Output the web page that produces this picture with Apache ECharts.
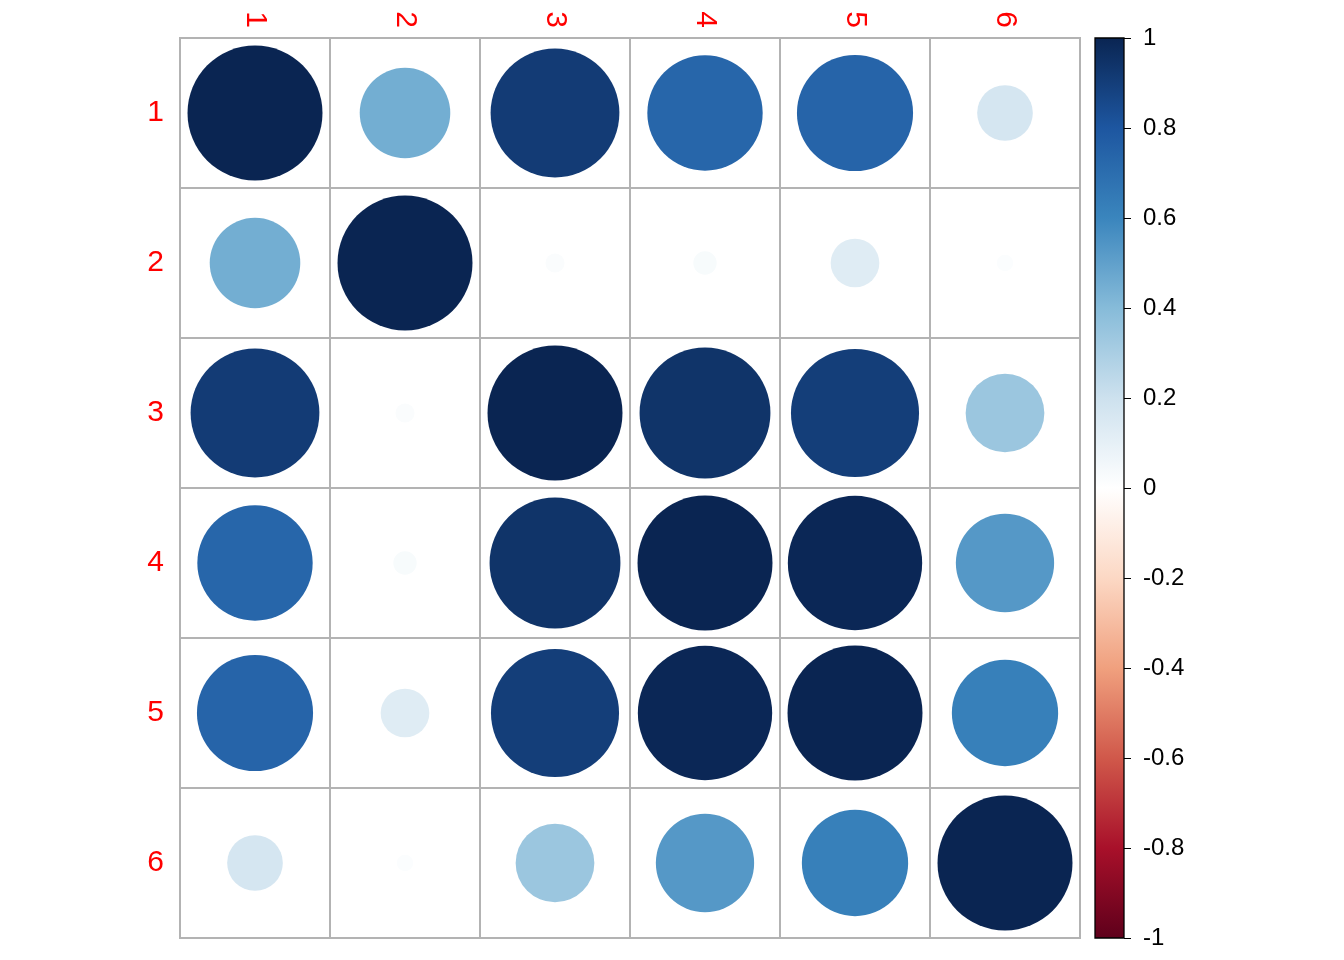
<!DOCTYPE html>
<html>
<head>
<meta charset="utf-8">
<script src="https://cdn.jsdelivr.net/npm/echarts@6/dist/echarts.min.js"></script>
<style>
html,body{margin:0;padding:0;background:#fff;}
#chart{width:1344px;height:960px;}
</style>
</head>
<body>
<div id="chart"></div>
<script>
// ---- data ----
const labels = ['1', '2', '3', '4', '5', '6'];
const row1 = [1.00, 0.45, 0.91, 0.73, 0.74, 0.17];
const row2 = [0.45, 1.00, 0.02, 0.03, 0.13, 0.015];
const row3 = [0.91, 0.02, 1.00, 0.94, 0.90, 0.34];
const row4 = [0.73, 0.03, 0.94, 1.00, 0.99, 0.53];
const row5 = [0.74, 0.13, 0.90, 0.99, 1.00, 0.62];
const row6 = [0.17, 0.015, 0.34, 0.53, 0.62, 1.00];
const colorbarTicks = [-1, -0.8, -0.6, -0.4, -0.2, 0, 0.2, 0.4, 0.6, 0.8, 1];
const palette = ['#5e001b', '#a8102a', '#d0584a', '#f0a07e', '#fcd8c4', '#FFFFFF',
                 '#cde1ee', '#86bbd9', '#3a85bd', '#1d56a0', '#0a2552'];

const corr = [row1, row2, row3, row4, row5, row6];
const points = [];
corr.forEach((row, i) => row.forEach((v, j) => points.push([j, i, v])));

// ---- layout ----
const G = {left: 180, top: 38, size: 900};
const CB = {left: 1095, top: 38, width: 29, height: 900};
const cell = G.size / labels.length;

const chart = echarts.init(document.getElementById('chart'), null, {renderer: 'canvas'});
const gridColor = '#b3b3b3';
const font = 'Liberation Sans, Arial, Helvetica, sans-serif';

const option = {
  backgroundColor: '#ffffff',
  animation: false,
  grid: [
    {left: G.left, top: G.top, width: G.size, height: G.size, show: true,
     borderColor: gridColor, borderWidth: 2, backgroundColor: 'transparent'},
    {left: CB.left, top: CB.top, width: CB.width, height: CB.height, show: false}
  ],
  xAxis: [
    {type: 'category', gridIndex: 0, data: labels, position: 'top',
     axisLine: {show: true, lineStyle: {color: gridColor, width: 2}},
     axisTick: {show: false},
     splitLine: {show: true, interval: 0, lineStyle: {color: gridColor, width: 2}},
     axisLabel: {color: '#ff0000', fontSize: 30, fontFamily: font, rotate: 90, margin: 10, interval: 0}},
    {type: 'category', gridIndex: 1, data: [''], show: false}
  ],
  yAxis: [
    {type: 'category', gridIndex: 0, data: labels, inverse: true,
     axisLine: {show: true, lineStyle: {color: gridColor, width: 2}},
     axisTick: {show: false},
     splitLine: {show: true, interval: 0, lineStyle: {color: gridColor, width: 2}},
     axisLabel: {color: '#ff0000', fontSize: 30, fontFamily: font, margin: 16, interval: 0}},
    {type: 'value', gridIndex: 1, position: 'right', min: -1, max: 1, interval: 0.2,
     axisLine: {show: false},
     axisTick: {show: true, length: 7, inside: false, lineStyle: {color: '#000', width: 1}},
     splitLine: {show: false},
     axisLabel: {color: '#000', fontSize: 24, fontFamily: font, margin: 19, padding: [5, 0, 0, 0],
                 formatter: v => {
                   const r = Math.round(v * 10) / 10;
                   return colorbarTicks.indexOf(r) >= 0 ? String(r) : '';
                 }}}
  ],
  visualMap: {
    show: false, type: 'continuous', min: -1, max: 1, dimension: 2, seriesIndex: 0,
    inRange: {color: palette}
  },
  graphic: [
    {type: 'rect', z: 10,
     shape: {x: CB.left, y: CB.top, width: CB.width, height: CB.height},
     style: {
       fill: new echarts.graphic.LinearGradient(0, 1, 0, 0,
         palette.map((c, k) => ({offset: k / (palette.length - 1), color: c}))),
       stroke: '#000', lineWidth: 1.3
     }}
  ],
  series: [
    {type: 'scatter', xAxisIndex: 0, yAxisIndex: 0, data: points,
     symbol: 'circle',
     symbolSize: val => cell * 0.9 * Math.sqrt(Math.abs(val[2])),
     itemStyle: {opacity: 1},
     emphasis: {disabled: true},
     z: 5}
  ]
};
chart.setOption(option);
</script>
</body>
</html>
